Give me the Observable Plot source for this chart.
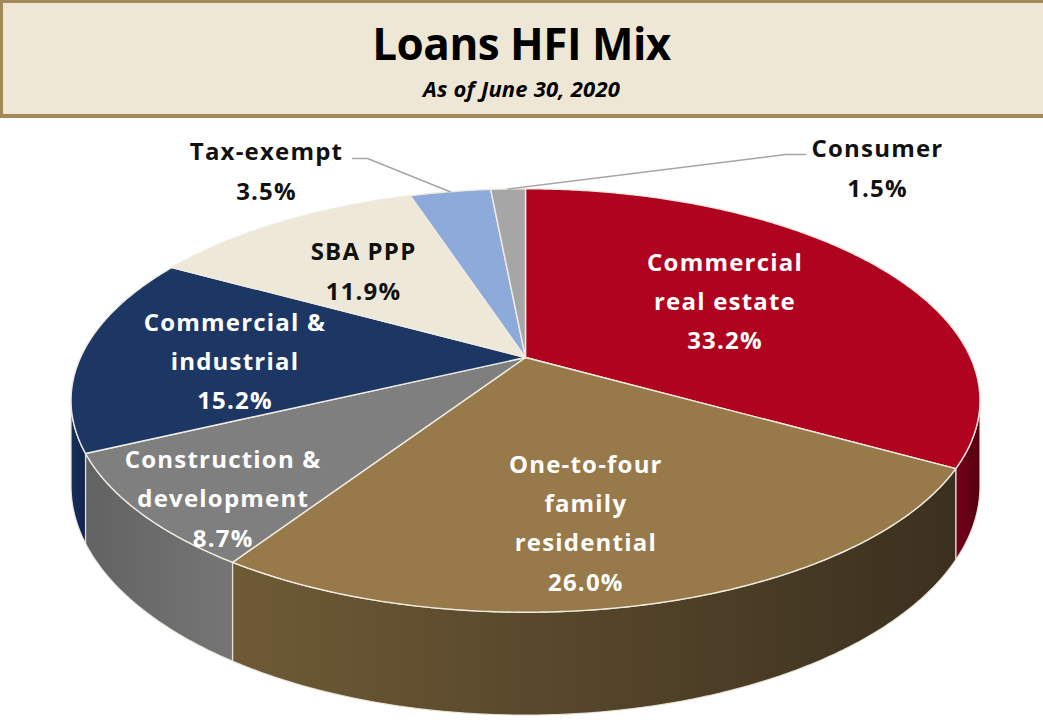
<!DOCTYPE html>
<html>
<head>
<meta charset="utf-8">
<script src="https://cdn.jsdelivr.net/npm/d3@7"></script>
<script src="https://cdn.jsdelivr.net/npm/@observablehq/plot@0.6"></script>
<style>
  html, body { margin: 0; padding: 0; background: #ffffff; overflow: hidden; }
  #titlebox { position: relative; width: 1050px; height: 118px; box-sizing: border-box;
    border: 3px solid #a3895a; border-right: none; border-bottom-width: 4px; background: #efe7d5; }
  #titlebox .t { position: absolute; left: -3px; width: 1043px; text-align: center; line-height: 1;
    font-family: "Open Sans", sans-serif; color: #000; }
  #title { top: 18px; font-size: 44px; font-weight: 700; letter-spacing: -0.5px; }
  #subtitle { top: 74px; font-size: 22px; font-weight: 700; font-style: italic; letter-spacing: 0.2px; }
  #chart svg text { letter-spacing: 1.2px; }
</style>
</head>
<body>
<div id="titlebox">
  <div class="t" id="title">Loans HFI Mix</div>
  <div class="t" id="subtitle">As of June 30, 2020</div>
</div>
<div id="chart"></div>
<script>
// ---- data ----
const categories = ["Commercial real estate", "One-to-four family residential", "Construction & development",
  "Commercial & industrial", "SBA PPP", "Tax-exempt", "Consumer"];
const values = [33.2, 26.0, 8.7, 15.2, 11.9, 3.5, 1.5];
const labelNames = ["Commercial\nreal estate", "One-to-four\nfamily\nresidential", "Construction &\ndevelopment",
  "Commercial &\nindustrial", "SBA PPP", "Tax-exempt", "Consumer"];
const topColors = ["#b00320", "#98794a", "#7f7f7f", "#1d3765", "#eee8d8", "#8eaadb", "#a6a6a6"];
const wallLight = ["#74001a", "#6e5a35", "#626262", "#182f5a", "#cfc8b6", "#6f8bbd", "#8a8a8a"];
const wallDark  = ["#55000f", "#3b301f", "#767676", "#10254d", "#bfb8a6", "#5f7aab", "#7a7a7a"];
const labelColors = ["#ffffff", "#ffffff", "#ffffff", "#ffffff", "#111111", "#111111", "#111111"];

// ---- layout (3D perspective pie geometry) ----
const W = 1043, H = 606;
const G = {cx: 525, cy: 239, A: 445, B: 203, k: 0.203, depth: 82};
const textShift = -4;
// inside label placement: radial fraction + nudge
const inside = [
  {r: 0.58, dx: -11, dy: 0},
  {r: 0.72, dx: -28, dy: 0},
  {r: 0.925, dx: 51, dy: 0},
  {r: 0.656, dx: 0, dy: 8},
  {r: 0.60, dx: -7, dy: 0}
];
// outside labels (leader lines)
const outside = {
  5: {label: [266, 53], elbow: [367, 40], end: [352, 40]},
  6: {label: [877, 50], elbow: [785, 36], end: [805, 36]}
};

function proj(phiDeg, r, d = 0) {
  const p = phiDeg * Math.PI / 180;
  const u = Math.sin(p), v = -Math.cos(p);
  const s = 1 / (1 - G.k * r * v);
  return [G.cx + G.A * r * u * s, G.cy + (G.B * r * v + d) * s];
}

const total = d3.sum(values);
let acc = 0;
const slices = values.map((v, i) => {
  const a0 = acc / total * 360; acc += v; const a1 = acc / total * 360;
  return {i, name: categories[i], value: v, a0, a1, mid: (a0 + a1) / 2};
});

function arcPts(a0, a1, r, d) {
  const n = Math.max(2, Math.ceil((a1 - a0) / 0.5));
  return d3.range(n + 1).map(j => proj(a0 + (a1 - a0) * j / n, r, d));
}

// visible wall range (silhouette where v = k)
const wallLo = 90 + Math.asin(G.k) * 180 / Math.PI, wallHi = 270 - Math.asin(G.k) * 180 / Math.PI;

const wallPolys = [];
const topPolys = [];
slices.forEach(s => {
  const lo = Math.max(s.a0, wallLo), hi = Math.min(s.a1, wallHi);
  if (hi > lo) {
    const top = arcPts(lo, hi, 1, 0);
    const bot = arcPts(lo, hi, 1, G.depth).reverse();
    const pts = top.concat(bot); pts.push(pts[0]);
    wallPolys.push({i: s.i, pts});
  }
  const pts = [proj(0, 0)].concat(arcPts(s.a0, s.a1, 1, 0)); pts.push(pts[0]);
  topPolys.push({i: s.i, pts});
});

const labelRows = slices.map(s => {
  let x, y;
  if (outside[s.i]) { [x, y] = outside[s.i].label; }
  else { const L = inside[s.i]; [x, y] = proj(s.mid, L.r); x += L.dx; y += L.dy; }
  return {i: s.i, x, y: y + textShift, text: labelNames[s.i] + "\n" + s.value.toFixed(1) + "%", fill: labelColors[s.i]};
});

const leaderRows = Object.keys(outside).flatMap(k => {
  const s = slices[+k], o = outside[k];
  const rim = proj(s.mid, 1);
  return [rim, o.elbow, o.end].map(([x, y]) => ({i: s.i, x, y}));
});

const marks = [];
wallPolys.forEach(p => {
  marks.push(Plot.line(p.pts.map(([x, y]) => ({x, y})), {x: "x", y: "y", fill: `url(#wall${p.i})`,
    stroke: "#eee9de", strokeWidth: 1.2, strokeOpacity: 0.9, curve: "linear"}));
});
topPolys.forEach(p => {
  marks.push(Plot.line(p.pts.map(([x, y]) => ({x, y})), {x: "x", y: "y", fill: topColors[p.i],
    stroke: "#f1ece2", strokeWidth: 1.4, curve: "linear", strokeLinejoin: "round"}));
});
marks.push(Plot.line(leaderRows, {x: "x", y: "y", z: "i", stroke: "#a6a6a6", strokeWidth: 1.5}));
marks.push(Plot.text(labelRows, {x: "x", y: "y", text: "text", fill: "fill", fontSize: 24, fontWeight: 700,
  fontFamily: "Open Sans", lineHeight: 1.64}));

const chart = Plot.plot({
  width: W, height: H, margin: 0,
  x: {domain: [0, W], range: [0, W], axis: null},
  y: {domain: [0, H], range: [0, H], axis: null},
  marks
});

// gradients for the walls
const ns = "http://www.w3.org/2000/svg";
const defs = document.createElementNS(ns, "defs");
slices.forEach(s => {
  const g = document.createElementNS(ns, "linearGradient");
  g.setAttribute("id", `wall${s.i}`);
  g.setAttribute("x1", "0"); g.setAttribute("x2", "1"); g.setAttribute("y1", "0"); g.setAttribute("y2", "0");
  [[0, wallLight[s.i]], [1, wallDark[s.i]]].forEach(([o, c]) => {
    const st = document.createElementNS(ns, "stop");
    st.setAttribute("offset", o); st.setAttribute("stop-color", c);
    g.appendChild(st);
  });
  defs.appendChild(g);
});
chart.insertBefore(defs, chart.firstChild);
document.getElementById("chart").appendChild(chart);
</script>
</body>
</html>
